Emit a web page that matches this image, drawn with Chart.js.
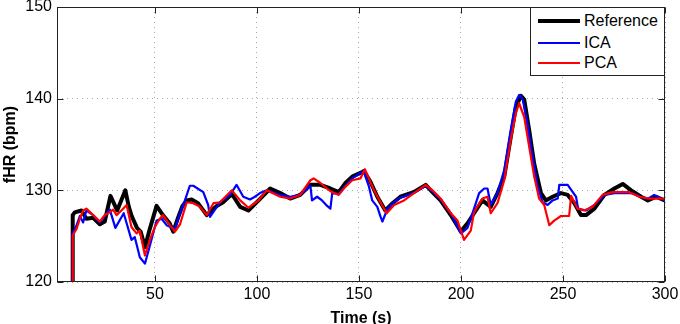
<!DOCTYPE html>
<html><head><meta charset="utf-8">
<script src="https://cdn.jsdelivr.net/npm/chart.js@4/dist/chart.umd.min.js"></script>
<style>
html,body{margin:0;padding:0;background:#fff;}
#wrap{position:relative;width:680px;height:324px;}
#legend{position:absolute;left:530px;top:7px;width:135px;height:69px;border:1px solid #222;background:#fff;box-sizing:border-box;font:16px "Liberation Sans",Arial,sans-serif;color:#000;}
.item{position:absolute;left:0;width:100%;height:0;}
.item .ln{position:absolute;left:7px;width:42px;}
.item .tx{position:absolute;left:53px;top:-10px;line-height:20px;white-space:nowrap;}
</style></head>
<body>
<div id="wrap">
<canvas id="c" width="680" height="324"></canvas>
<div id="legend"></div>
</div>
<script>
const seriesNames = ["Reference", "ICA", "PCA"];
const seriesColors = ["#000000", "#0000ff", "#ff0000"];
const xTicks = [50, 100, 150, 200, 250, 300];
const yTicks = [120, 130, 140, 150];

const refTime = [9.6, 9.7, 10.7, 14.0, 16.4, 19.7, 23.0, 25.4, 28.2, 31.5, 35.5, 37.2, 38.6, 41.2, 43.0, 45.1, 47.5, 50.8, 53.9, 57.2, 59.0, 61.3, 63.5, 65.6, 68.0, 71.1, 75.4, 80.3, 83.4, 87.7, 91.8, 95.8, 100.8, 106.5, 111.4, 116.3, 121.2, 126.2, 131.1, 136.0, 140.1, 143.4, 146.7, 150.7, 152.4, 155.7, 159.0, 162.9, 166.0, 170.3, 176.8, 182.7, 186.0, 190.0, 195.0, 199.9, 203.2, 206.4, 210.5, 214.6, 217.9, 221.2, 224.4, 226.9, 229.4, 231.0, 233.4, 235.9, 239.2, 241.6, 244.9, 249.0, 252.3, 255.6, 258.8, 261.3, 265.4, 270.3, 275.2, 279.3, 283.4, 288.3, 291.6, 295.7, 299.8];
const refHR = [120, 127.3, 127.6, 127.8, 126.9, 127.0, 126.3, 126.6, 129.4, 127.8, 130.0, 128.2, 127.2, 125.9, 125.5, 123.8, 125.8, 128.3, 127.3, 126.4, 125.5, 127.0, 128.3, 128.9, 129.0, 128.6, 127.3, 128.3, 128.7, 129.6, 128.2, 127.8, 128.9, 130.2, 129.7, 129.1, 129.5, 130.6, 130.6, 130.2, 129.8, 130.8, 131.5, 131.9, 132.1, 130.9, 129.3, 127.8, 128.5, 129.3, 129.8, 130.6, 129.8, 128.9, 127.3, 125.5, 126.4, 127.5, 128.9, 128.2, 129.7, 131.5, 135.8, 139.1, 140.3, 139.9, 136.6, 132.9, 129.7, 128.9, 129.3, 129.7, 129.5, 128.6, 127.3, 127.3, 128.0, 129.5, 130.2, 130.7, 130.0, 129.3, 128.9, 129.3, 128.9];

const icaTime = [9.6, 9.7, 11.6, 13.2, 14.8, 16.4, 19.7, 23.0, 25.4, 27.9, 30.6, 34.7, 38.5, 40.1, 42.6, 45.1, 48.3, 50.8, 53.3, 55.7, 59.8, 62.3, 64.7, 67.1, 68.8, 73.7, 76.1, 77.0, 81.9, 86.8, 90.0, 93.3, 96.6, 99.0, 101.5, 104.8, 111.4, 116.3, 121.2, 126.2, 127.0, 129.5, 131.9, 134.4, 136.0, 136.9, 140.1, 143.4, 146.7, 150.7, 152.4, 154.9, 156.5, 159.0, 160.6, 161.5, 164.0, 166.5, 170.3, 176.8, 182.7, 186.0, 190.0, 195.0, 200.0, 203.2, 206.4, 208.9, 211.4, 213.0, 214.6, 217.9, 221.2, 224.4, 226.9, 228.5, 230.2, 232.6, 235.1, 237.6, 240.0, 242.5, 244.9, 247.4, 248.2, 252.3, 254.8, 256.4, 257.4, 261.3, 265.4, 270.3, 275.2, 283.4, 288.3, 291.6, 294.7, 299.8];
const icaHR = [120, 125.3, 126.2, 127.2, 126.5, 127.8, 127.3, 126.5, 127.2, 127.9, 125.9, 127.5, 124.6, 124.9, 122.7, 122.0, 124.6, 126.7, 126.9, 126.2, 125.8, 127.5, 128.9, 130.5, 130.5, 129.8, 128.4, 127.1, 128.7, 129.5, 130.6, 129.3, 129.0, 129.3, 129.7, 130.0, 129.5, 129.3, 129.5, 130.5, 128.9, 129.3, 128.9, 128.3, 128.0, 129.7, 129.6, 130.5, 131.3, 131.9, 132.0, 130.4, 128.9, 128.2, 127.1, 126.6, 128.0, 128.6, 129.2, 129.7, 130.5, 129.9, 129.0, 127.5, 125.3, 125.9, 128.0, 129.7, 130.2, 130.2, 128.4, 129.7, 132.2, 136.6, 139.7, 140.4, 140.0, 137.3, 133.7, 130.4, 128.7, 128.4, 128.9, 129.1, 130.6, 130.6, 129.8, 129.3, 128.0, 127.8, 128.4, 129.5, 129.7, 129.7, 129.3, 129.1, 129.5, 128.9];

const pcaTime = [9.6, 9.7, 11.6, 13.2, 14.8, 16.4, 19.7, 23.0, 25.4, 27.9, 29.5, 31.2, 33.6, 36.1, 38.5, 41.0, 42.6, 45.1, 47.5, 50.0, 52.4, 54.0, 57.3, 59.8, 62.3, 65.6, 68.8, 72.1, 75.4, 78.7, 81.9, 87.7, 91.8, 95.8, 100.8, 104.8, 111.4, 116.3, 121.2, 126.2, 127.8, 131.1, 136.0, 140.1, 143.4, 146.7, 150.7, 152.9, 157.4, 162.3, 163.6, 167.2, 172.1, 177.0, 182.7, 186.0, 190.0, 195.0, 198.3, 201.5, 204.8, 206.4, 210.5, 213.0, 214.6, 217.9, 221.2, 224.4, 226.9, 228.5, 231.0, 233.4, 235.9, 238.3, 240.8, 243.3, 245.7, 249.0, 253.0, 254.0, 257.1, 260.4, 264.5, 269.4, 274.3, 282.5, 287.4, 292.3, 299.8];
const pcaHR = [120, 125.1, 125.8, 126.9, 127.8, 128.0, 127.3, 126.6, 127.3, 127.6, 127.9, 127.3, 127.8, 128.4, 126.0, 125.3, 125.6, 122.9, 124.6, 126.0, 126.9, 127.3, 126.2, 125.5, 126.3, 128.7, 128.6, 128.2, 127.3, 128.6, 128.7, 130.0, 128.9, 128.1, 128.9, 130.0, 129.3, 129.1, 129.5, 131.1, 131.3, 130.8, 129.9, 129.5, 130.4, 131.1, 131.3, 132.3, 130.0, 128.0, 127.5, 128.4, 128.9, 129.7, 130.6, 130.0, 129.1, 127.5, 126.7, 124.6, 125.6, 127.6, 129.1, 129.3, 127.5, 128.6, 131.1, 135.5, 138.4, 139.5, 138.0, 134.8, 131.5, 129.1, 128.4, 126.2, 126.7, 127.2, 127.2, 129.4, 128.0, 127.8, 128.2, 129.5, 129.8, 129.8, 129.3, 129.1, 129.1];

const lineWidths = [4, 2.2, 2.2];
const FONT = '"Liberation Sans", Arial, sans-serif';

function pts(t, v) { return t.map((x, i) => ({x: x, y: v[i]})); }
const allData = [pts(refTime, refHR), pts(icaTime, icaHR), pts(pcaTime, pcaHR)];

const datasets = seriesNames.map((n, i) => ({
  label: n, data: allData[i], borderColor: seriesColors[i], backgroundColor: seriesColors[i],
  borderWidth: lineWidths[i], pointRadius: 0, tension: 0, fill: false, order: 3 - i,
  borderJoinStyle: 'round', borderCapStyle: 'butt'
}));

const boxPlugin = {
  id: 'boxPlugin',
  afterDatasetsDraw(chart) {
    const {ctx, chartArea: a, scales: {x, y}} = chart;
    const L = Math.round(a.left) + 0.5, R = Math.round(a.right) - 0.5;
    const T = Math.round(a.top) + 0.5, B = Math.round(a.bottom) - 0.5;
    ctx.save();
    ctx.strokeStyle = '#222'; ctx.lineWidth = 1;
    ctx.beginPath();
    xTicks.forEach(v => {
      const p = Math.round(x.getPixelForValue(v)) + 0.5;
      ctx.moveTo(p, B); ctx.lineTo(p, B - 6);
      ctx.moveTo(p, T); ctx.lineTo(p, T + 6);
    });
    yTicks.forEach(v => {
      const p = Math.round(y.getPixelForValue(v)) + 0.5;
      ctx.moveTo(L, p); ctx.lineTo(L + 6, p);
      ctx.moveTo(R, p); ctx.lineTo(R - 6, p);
    });
    ctx.stroke();
    ctx.strokeRect(L, T, R - L, B - T);
    ctx.restore();
  }
};

function zeroPad(s) { s.paddingTop = 0; s.paddingBottom = 0; s.paddingLeft = 0; s.paddingRight = 0; }

new Chart(document.getElementById('c'), {
  type: 'line',
  data: { datasets },
  plugins: [boxPlugin],
  options: {
    responsive: false, animation: false, maintainAspectRatio: false,
    layout: { padding: { left: 0, right: 15, top: 7, bottom: 0 } },
    plugins: { legend: { display: false }, tooltip: { enabled: false } },
    scales: {
      x: {
        type: 'linear', min: 2, max: 300,
        afterBuildTicks: s => { s.ticks = xTicks.map(v => ({value: v})); },
        afterFit: s => { s.height = 42; zeroPad(s); },
        grid: { color: '#a8a8a8', lineWidth: 1, drawTicks: false },
        border: { display: false, dash: [1, 4] },
        ticks: { color: '#000', font: { family: FONT, size: 16 }, padding: 3, maxRotation: 0, autoSkip: false },
        title: { display: true, text: 'Time (s)', color: '#000', font: { family: FONT, size: 16, weight: 'bold', lineHeight: 1 }, padding: { top: 0, bottom: -3 } }
      },
      y: {
        type: 'linear', min: 120, max: 150,
        afterBuildTicks: s => { s.ticks = yTicks.map(v => ({value: v})); },
        afterFit: s => { s.width = 57; zeroPad(s); },
        grid: { color: '#a8a8a8', lineWidth: 1, drawTicks: false },
        border: { display: false, dash: [1, 4] },
        ticks: { color: '#000', font: { family: FONT, size: 16 }, padding: 5 },
        title: { display: true, text: 'fHR (bpm)', color: '#000', font: { family: FONT, size: 16, weight: 'bold', lineHeight: 1 }, padding: { top: 3, bottom: 0 } }
      }
    }
  }
});

const legendRows = [14, 36, 56];
const leg = document.getElementById('legend');
seriesNames.forEach((n, i) => {
  const it = document.createElement('div');
  it.className = 'item'; it.style.top = (legendRows[i] - 1) + 'px';
  const ln = document.createElement('div');
  ln.className = 'ln'; ln.style.height = lineWidths[i] + 'px';
  ln.style.top = (-lineWidths[i] / 2) + 'px'; ln.style.background = seriesColors[i];
  const tx = document.createElement('div');
  tx.className = 'tx'; tx.textContent = n;
  it.appendChild(ln); it.appendChild(tx); leg.appendChild(it);
});
</script>
</body></html>
